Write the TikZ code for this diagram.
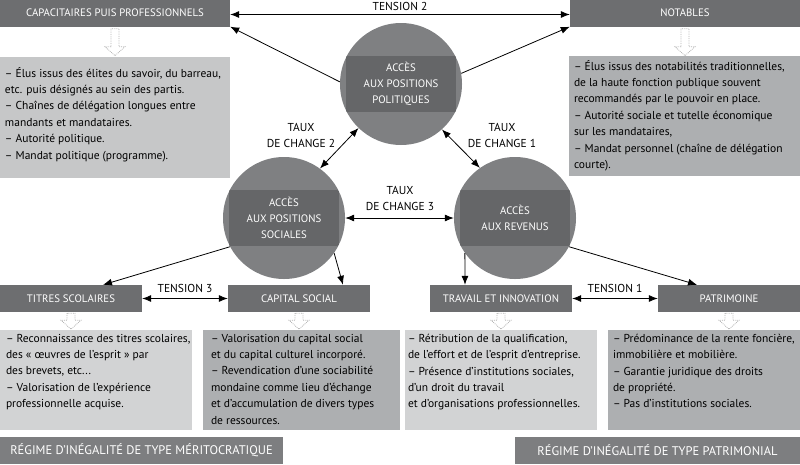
\documentclass[tikz,border=0pt]{standalone}
\usepackage{fontspec}
\setmainfont{PT Sans}
\usepackage{tikz}
\usetikzlibrary{arrows.meta,positioning}

\definecolor{entete}{HTML}{6D6E70}
\definecolor{disque}{HTML}{7F8082}
\definecolor{bande}{HTML}{656668}
\definecolor{clair}{HTML}{D2D3D4}
\definecolor{moyen}{HTML}{C6C7C8}
\definecolor{fonce}{HTML}{ADAFB1}
\definecolor{regime}{HTML}{7D7E80}

\tikzset{
  entete/.style={fill=entete, text=white, minimum height=27pt, inner sep=0pt, font=\fontsize{10.8}{12}\selectfont},
  regime/.style={fill=regime, text=white, minimum height=27pt, inner sep=0pt, font=\fontsize{12.5}{14}\selectfont},
  boite/.style={inner sep=0pt},
  texte/.style={anchor=north west, inner xsep=5pt, inner ysep=4pt, align=left, font=\fontsize{11.5}{16.4}\selectfont},
  disque/.style={circle, fill=disque, minimum size=122pt, text=white, align=center,
    font=\fontsize{10.8}{16}\selectfont,
    path picture={\fill[bande] ([xshift=-55pt,yshift=-28pt]path picture bounding box.center) rectangle ++(110pt,56pt);}},
  taux/.style={align=center, font=\fontsize{11.5}{16}\selectfont},
  lbltension/.style={font=\fontsize{11.5}{12}\selectfont},
  fleche/.style={-{Latex[length=9pt,width=7pt]}, line width=0.8pt},
  bifleche/.style={{Latex[length=9pt,width=7pt]}-{Latex[length=9pt,width=7pt]}, line width=0.8pt},
  creux/.pic={\draw[black!30, densely dotted, line width=0.8pt] (-4,0) -- (-4,#1-9) -- (-10,#1-9) -- (0,#1) -- (10,#1-9) -- (4,#1-9) -- (4,0) -- cycle;}
}

\begin{document}
\begin{tikzpicture}[x=1pt,y=-1pt]
  \useasboundingbox (0,0) rectangle (800,464);

  % en-tetes du haut
  \node[entete, minimum width=230pt] (cap) at (115,13) {CAPACITAIRES PUIS PROFESSIONNELS};
  \node[entete, minimum width=230pt] (not) at (685,13) {NOTABLES};

  % boites de texte du haut
  \node[boite, fill=moyen, minimum width=230pt, minimum height=121pt] (g1) at (115,117.5) {};
  \node[boite, fill=fonce, minimum width=231pt, minimum height=120pt] (g2) at (684.5,116) {};
  \node[texte, inner ysep=10pt] (t1) at (g1.north west) {– Élus issus des élites du savoir, du barreau,\\
    etc. puis désignés au sein des partis.\\
    – Chaînes de délégation longues entre\\
    mandants et mandataires.\\
    – Autorité politique.\\
    – Mandat politique (programme).};
  \node[texte] (t2) at (g2.north west) {– Élus issus des notabilités traditionnelles,\\
    de la haute fonction publique souvent\\
    recommandés par le pouvoir en place.\\
    – Autorité sociale et tutelle économique\\
    sur les mandataires,\\
    – Mandat personnel (chaîne de délégation\\
    courte).};

  % les trois acces
  \node[disque] (pol) at (401,84) {ACCÈS\\AUX POSITIONS\\POLITIQUES};
  \node[disque] (soc) at (284,218) {ACCÈS\\AUX POSITIONS\\SOCIALES};
  \node[disque] (rev) at (515,218) {ACCÈS\\AUX REVENUS};

  % en-tetes du bas
  \node[entete, minimum width=142pt] (tit) at (71,298.5) {TITRES SCOLAIRES};
  \node[entete, minimum width=142pt] (csoc) at (299,298.5) {CAPITAL SOCIAL};
  \node[entete, minimum width=142pt] (trav) at (501,298.5) {TRAVAIL ET INNOVATION};
  \node[entete, minimum width=142pt] (pat) at (729,298.5) {PATRIMOINE};

  % boites de texte du bas
  \node[boite, fill=clair, minimum width=192pt, minimum height=100pt] (g3) at (96,380) {};
  \node[boite, fill=fonce, minimum width=197pt, minimum height=100pt] (g4) at (301.5,380) {};
  \node[boite, fill=clair, minimum width=192pt, minimum height=100pt] (g5) at (501,380) {};
  \node[boite, fill=fonce, minimum width=192pt, minimum height=100pt] (g6) at (704,380) {};
  \node[texte, inner xsep=6pt] (t3) at (g3.north west) {– Reconnaissance des titres scolaires,\\
    des « œuvres de l’esprit » par\\
    des brevets, etc...\\
    – Valorisation de l’expérience\\
    professionnelle acquise.};
  \node[texte, inner xsep=8pt] (t4) at (g4.north west) {– Valorisation du capital social\\
    et du capital culturel incorporé.\\
    – Revendication d’une sociabilité\\
    mondaine comme lieu d’échange\\
    et d’accumulation de divers types\\
    de ressources.};
  \node[texte, inner xsep=3pt] (t5) at (g5.north west) {– Rétribution de la qualification,\\
    de l’effort et de l’esprit d’entreprise.\\
    – Présence d’institutions sociales,\\
    d’un droit du travail\\
    et d’organisations professionnelles.};
  \node[texte] (t6) at (g6.north west) {– Prédominance de la rente foncière,\\
    immobilière et mobilière.\\
    – Garantie juridique des droits\\
    de propriété.\\
    – Pas d’institutions sociales.};

  % regimes
  \node[regime, minimum width=283pt] (r1) at (141.5,450.5) {RÉGIME D’INÉGALITÉ DE TYPE MÉRITOCRATIQUE};
  \node[regime, minimum width=285pt] (r2) at (657.5,450.5) {RÉGIME D’INÉGALITÉ DE TYPE PATRIMONIAL};

  % fleches creuses
  \pic at ([yshift=-2pt]cap.south) {creux=27};
  \pic at ([yshift=-2pt]not.south) {creux=27};
  \foreach \h in {tit,csoc,trav,pat}{\pic at ([yshift=-1pt]\h.south) {creux=16};}

  % tensions
  \draw[bifleche] ([yshift=-1.5pt]cap.east) -- node[above=0pt, lbltension] (ten2) {TENSION 2} ([yshift=-1.5pt]not.west);
  \draw[bifleche] (tit.east) -- node[above=2pt, lbltension] (ten3) {TENSION 3} (csoc.west);
  \draw[bifleche] (trav.east) -- node[above=2pt, lbltension] (ten1) {TENSION 1} (pat.west);

  % taux de change
  \draw[bifleche] (pol.226) -- (soc.54);
  \draw[bifleche] (pol.312) -- (rev.125);
  \draw[bifleche] (soc.east) -- (rev.west);
  \node[taux] (tc2) at (301,135) {TAUX\\DE CHANGE 2};
  \node[taux] (tc1) at (502,135) {TAUX\\DE CHANGE 1};
  \node[taux] (tc3) at (400,198) {TAUX\\DE CHANGE 3};

  % des acces vers les groupes
  \draw[fleche] (pol.178) -- (cap.south east);
  \draw[fleche] (pol.10) -- (not.south west);
  \draw[fleche] (soc.208) -- ([xshift=32pt]tit.north);
  \draw[fleche] (soc.325) -- ([xshift=44pt]csoc.north);
  \draw[fleche] (rev.215) -- ([xshift=-36pt]trav.north);
  \draw[fleche] (rev.332) -- ([xshift=-32pt]pat.north);
\end{tikzpicture}
\end{document}
